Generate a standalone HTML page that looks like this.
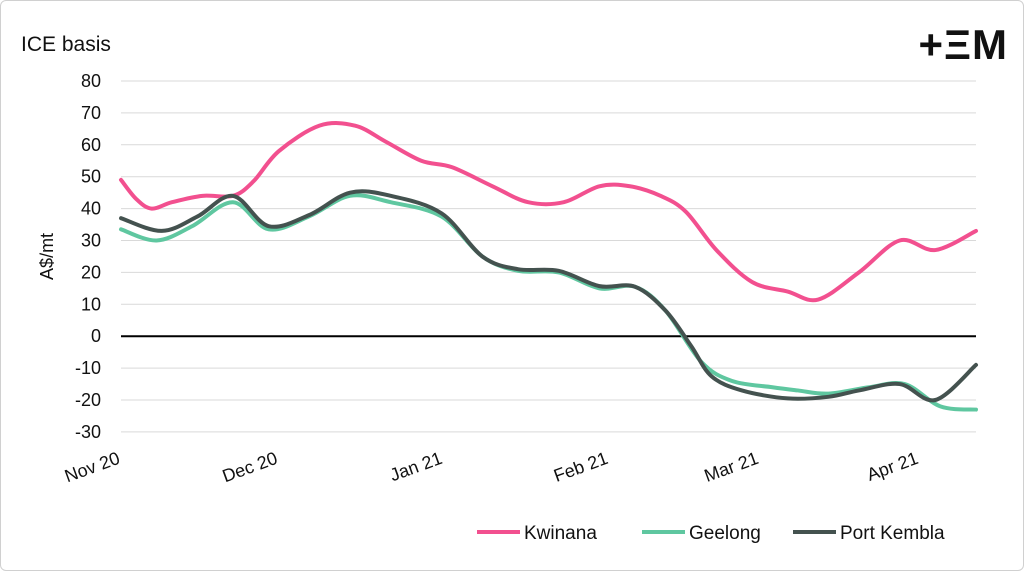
<!DOCTYPE html>
<html><head><meta charset="utf-8"><style>
body{margin:0;background:#fff;font-family:"Liberation Sans",sans-serif}
#wrap{position:relative;width:1022px;height:569px;border:1px solid #d0d0d0;border-radius:6px;overflow:hidden}
</style></head><body>
<div id="wrap">
<svg id="c" width="1022" height="569"></svg>
</div>
<script>
const yTicks=[80,70,60,50,40,30,20,10,0,-10,-20,-30];
const monthLabels=["Nov 20","Dec 20","Jan 21","Feb 21","Mar 21","Apr 21"];
const monthDays=[0,30,61,92,120,151];
const kwDays=[0,3,6,10,16,22,26,31,39,46,52,59,65,73,80,87,94,100,106,111,117,124,131,137,145,153,160,168];
const kwVals=[49,43,40,42,44,44,48.5,58,66,66,61,55,53,47,42,42,47,47,44,39,27,17,14,11.5,20,30,27,33];
const geDays=[0,7,14,22,29,37,45,53,63,71,78,86,94,101,107,114,120,128,133,139,147,154,161,168];
const geVals=[33.5,30,34.5,42,33.5,37.6,44,42,37.5,25,20.5,20,15,15.5,8,-8,-14,-16,-17,-18,-16,-15,-22,-23];
const pkDays=[0,8,15,22,29,37,45,53,63,71,78,86,94,101,107,112,116,122,131,139,145,153,160,168];
const pkVals=[37,33,37.5,44,34.5,38,45,44,38.5,25,21,20.5,15.7,15.5,8,-3,-12.5,-17,-19.5,-19,-17,-15,-20,-9];
const NS="http://www.w3.org/2000/svg",svg=document.getElementById('c');
const X0=120,X1=975,Y80=80,PX10=31.9;
const xs=d=>X0+d*(X1-X0)/168;
const ys=v=>Y80+(80-v)/10*PX10;
function mk(t,a,p){const e=document.createElementNS(NS,t);for(const k in a)e.setAttribute(k,a[k]);(p||svg).appendChild(e);return e;}
function txt(x,y,s,a){const e=mk('text',Object.assign({x:x,y:y,'font-size':17,fill:'#111','font-family':'Liberation Sans, sans-serif'},a||{}));e.textContent=s;return e;}
let t=txt(20,50,"ICE basis",{'font-size':21});

t=txt(1007,58,"+ΞM",{'font-size':42,'font-weight':'bold','text-anchor':'end','letter-spacing':'1'});

yTicks.forEach(v=>{
 const l=mk('line',{x1:X0,x2:X1,y1:ys(v),y2:ys(v),stroke:v===0?'#000':'#d9d9d9','stroke-width':v===0?2:1});
 
 
 const tt=txt(100,ys(v)+6,String(v),{'text-anchor':'end','font-size':18});
 
 
});
t=txt(0,0,"A$/mt",{transform:`translate(52,${ys(25)}) rotate(-90)`,'text-anchor':'middle','font-size':18});

const labShift=[0,5,12,20,28,30];
monthLabels.forEach((m,i)=>{
 const x=xs(monthDays[i])+labShift[i], y=462;
 const tt=txt(0,0,m,{transform:`translate(${x},${y}) rotate(-20)`,'text-anchor':'end','font-size':18});
 
 
});
function path(days,vals){
 const p=days.map((d,i)=>[xs(d),ys(vals[i])]);
 let s=`M${p[0][0]},${p[0][1]}`;
 for(let i=0;i<p.length-1;i++){
  const a=p[i-1]||p[i],b=p[i],c=p[i+1],d=p[i+2]||c;
  s+=`C${b[0]+(c[0]-a[0])/6},${b[1]+(c[1]-a[1])/6} ${c[0]-(d[0]-b[0])/6},${c[1]-(d[1]-b[1])/6} ${c[0]},${c[1]}`;
 }
 return s;
}
const series=[["Kwinana",kwDays,kwVals,"#f2508f","series-kwinana"],["Geelong",geDays,geVals,"#5fc7a0","series-geelong"],["Port Kembla",pkDays,pkVals,"#44524f","series-port-kembla"]];
series.forEach(s=>{
 const p=mk('path',{d:path(s[1],s[2]),fill:'none',stroke:s[3],'stroke-width':4,'stroke-linecap':'round'});
 
 
});
const lx=[476,641,792];
series.forEach((s,i)=>{
 const l=mk('line',{x1:lx[i],x2:lx[i]+43,y1:531,y2:531,stroke:s[3],'stroke-width':4});
 
 
 const tt=txt(lx[i]+47,538,s[0],{'font-size':19});
 
 
});
</script>
</body></html>
